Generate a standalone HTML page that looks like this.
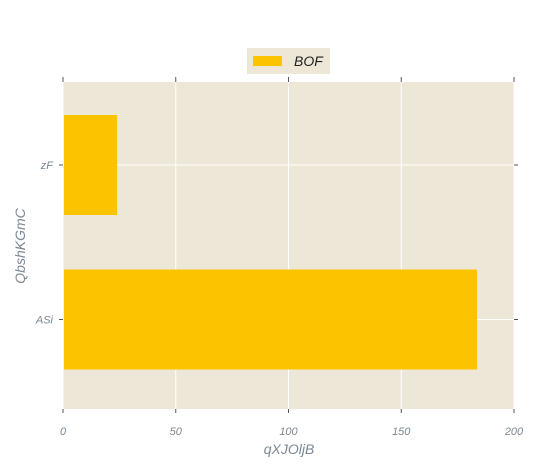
<!DOCTYPE html>
<html><head><meta charset="utf-8"><style>
body{margin:0;background:#fff;width:536px;height:469px;overflow:hidden;font-family:"Liberation Sans",sans-serif}
svg text{font-style:italic;fill:#7b8894}
</style></head><body>
<svg id="chart" width="536" height="469">
<rect x="63" y="82" width="451" height="327" fill="#ede7d7"/>
<g id="grid"></g><g id="bars"></g><g id="axes"></g>
<g>
<rect x="247" y="48" width="83" height="26" fill="#ede7d7"/>
<rect x="253" y="56" width="29" height="10" fill="#fcc400"/>
<text x="294" y="66" font-size="14" style="fill:#222">BOF</text>
</g>
<text x="289" y="454" font-size="14" text-anchor="middle">qXJOljB</text>
<text transform="translate(25,246) rotate(-90)" font-size="14" text-anchor="middle">QbshKGmC</text>
</svg>
<script>
const categories=["zF","ASi"];
const values=[24,183.6];
const xTicks=[0,50,100,150,200];
const NS="http://www.w3.org/2000/svg";
const x0=63,x1=514,yTop=82,yBot=409,xMax=200;
const xs=v=>x0+v/xMax*(x1-x0);
const band=(yBot-yTop)/categories.length;
function mk(t,a,p){const e=document.createElementNS(NS,t);for(const k in a)e.setAttribute(k,a[k]);document.getElementById(p).appendChild(e);return e;}
xTicks.forEach(t=>{
 const g=mk("line",{x1:xs(t),x2:xs(t),y1:yTop,y2:yBot,stroke:"#fff","stroke-width":1},"grid");
 
 
 const a=mk("line",{x1:xs(t),x2:xs(t),y1:yTop-5,y2:yTop,stroke:"#555"},"axes");
 
 
 const b=mk("line",{x1:xs(t),x2:xs(t),y1:yBot,y2:yBot+4,stroke:"#555"},"axes");
 
 
 const l=mk("text",{x:xs(t),y:yBot+26,"font-size":11,"text-anchor":"middle"},"axes");l.textContent=t;
 
 
});
const bh=100;
categories.forEach((c,i)=>{
 const y=yTop+band*i+band/2+(i===0?1.25:-7.75);
 const g=mk("line",{x1:x0,x2:x1,y1:y,y2:y,stroke:"#fff"},"grid");
 
 
 const r=mk("rect",{x:x0+1,y:y-bh/2,width:xs(values[i])-x0-1,height:bh,fill:"#fcc400"},"bars");
 
 
 const a=mk("line",{x1:x0-4,x2:x0,y1:y,y2:y,stroke:"#555"},"axes");
 
 
 const b=mk("line",{x1:x1,x2:x1+4,y1:y,y2:y,stroke:"#555"},"axes");
 
 
 const l=mk("text",{x:x0-10,y:y+4,"font-size":11,"text-anchor":"end"},"axes");l.textContent=c;
 
 
});
</script>
</body></html>
